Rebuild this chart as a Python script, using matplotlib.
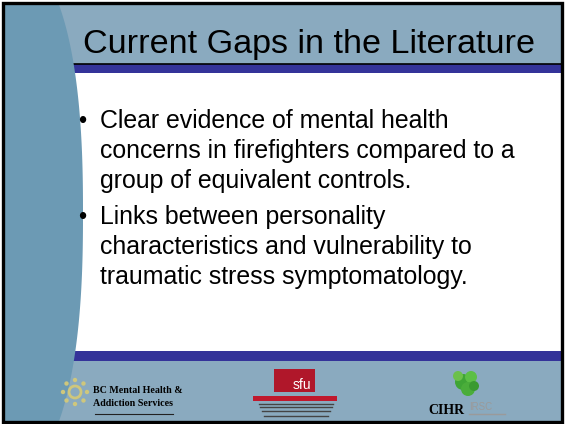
#!/usr/bin/env python3
"""
スライド「Current Gaps in the Literature」の再現
"""

import numpy as np
import matplotlib
matplotlib.use("Agg")
import matplotlib.pyplot as plt
from matplotlib.patches import Rectangle, Polygon, Circle

# スライドの文字
TITLE = "Current Gaps in the Literature"
BULLETS = [
    ["Clear evidence of mental health",
     "concerns in firefighters compared to a",
     "group of equivalent controls."],
    ["Links between personality",
     "characteristics and vulnerability to",
     "traumatic stress symptomatology."],
]
LOGO_BC = ["BC Mental Health &", "Addiction Services"]
LOGO_SFU = "sfu"
LOGO_CIHR = ["CIHR", "IRSC"]

# 色
LIGHT = "#8aaabf"
DARK = "#6c9ab4"
BLUE = "#343399"

W, H = 565, 424
plt.rcParams['font.family'] = ['Liberation Sans', 'DejaVu Sans']

fig = plt.figure(figsize=(W / 100, H / 100), dpi=100)
ax = fig.add_axes([0, 0, 1, 1])
ax.set_xlim(0, W)
ax.set_ylim(H, 0)
ax.axis('off')

# 背景
ax.add_patch(Rectangle((3, 3), 559, 419, facecolor=LIGHT, edgecolor='none', zorder=0))
ax.add_patch(Rectangle((3, 73), 559, 278, facecolor='white', edgecolor='none', zorder=1))
ax.add_patch(Rectangle((3, 64), 559, 9, facecolor=BLUE, edgecolor='none', zorder=1))
ax.add_patch(Rectangle((3, 351), 559, 10, facecolor=BLUE, edgecolor='none', zorder=1))
ax.plot([3, 562], [63.5, 63.5], color='black', lw=1.2, zorder=2)

# 左の曲線部分 (超楕円)
yy = np.linspace(5, 422, 200)
cy, a, b, n = 213, 80, 262, 2.4
t = np.clip(1 - np.abs((yy - cy) / b) ** n, 0, None)
xx = 3 + a * t ** (1 / n)
pts = np.column_stack([np.r_[3, xx, 3], np.r_[5, yy, 422]])
ax.add_patch(Polygon(pts, closed=True, facecolor=DARK, edgecolor='none', zorder=3))

# 外枠
ax.add_patch(Rectangle((3, 3), 559, 419, facecolor='none', edgecolor='black', lw=2.4, zorder=10))

# タイトル
ax.text(83, 53, TITLE, fontsize=24.6, color='black', ha='left', va='baseline', zorder=5)

# 箇条書き
y = 128
for para in BULLETS:
    ax.text(78, y, "\u2022", fontsize=17, ha='left', va='baseline', zorder=5)
    for line in para:
        ax.text(100, y, line, fontsize=17.9, ha='left', va='baseline', zorder=5)
        y += 30
    y += 6

# ロゴ: BC Mental Health
sun_c = (75, 392)
for ang in np.linspace(0, 2 * np.pi, 9)[:-1]:
    ax.add_patch(Circle((sun_c[0] + 12 * np.cos(ang), sun_c[1] + 12 * np.sin(ang)), 2.2,
                        facecolor='#cfc77c', edgecolor='none', zorder=4))
ax.add_patch(Circle(sun_c, 6, facecolor='none', edgecolor='#cfc77c', lw=2, zorder=4))
ax.text(93, 393, LOGO_BC[0], fontsize=7.2, fontweight='bold', family='Liberation Serif',
        va='baseline', ha='left', zorder=5)
ax.text(93, 406, LOGO_BC[1], fontsize=7.2, fontweight='bold', family='Liberation Serif',
        va='baseline', ha='left', zorder=5)
ax.plot([95, 173], [414, 414], color='#222222', lw=0.8, zorder=5)

# ロゴ: SFU
ax.add_patch(Rectangle((274, 369), 41, 23, facecolor='#b0172a', edgecolor='none', zorder=4))
ax.text(311, 389, LOGO_SFU, fontsize=10, color='white', ha='right', va='baseline', zorder=5)
ax.add_patch(Rectangle((253, 396), 84, 5, facecolor='#c0182c', edgecolor='none', zorder=4))
for yl, x0, x1 in [(404, 259, 333), (407, 260, 332), (411, 262, 330), (416, 264, 328)]:
    ax.plot([x0, x1], [yl, yl], color='#444444', lw=1.0, zorder=5)

# ロゴ: CIHR
for (cx, cyy, r, c) in [(463, 382, 8, '#3fa535'), (471, 377, 6, '#5cbf45'),
                        (468, 389, 7, '#4aad3a'), (458, 376, 5, '#6cc04a'),
                        (474, 386, 5, '#3a9a30')]:
    ax.add_patch(Circle((cx, cyy), r, facecolor=c, edgecolor='none', zorder=4))
ax.text(428, 414, LOGO_CIHR[0], fontsize=10, fontweight='bold', family='Liberation Serif',
        va='baseline', ha='left', zorder=5)
ax.text(469, 410, LOGO_CIHR[1], fontsize=7, color='#9a9a9a', family='Liberation Sans',
        va='baseline', ha='left', zorder=5)
ax.plot([469, 505], [414, 414], color='#9a9a9a', lw=1.0, zorder=5)

fig.savefig("out.png", dpi=100)
